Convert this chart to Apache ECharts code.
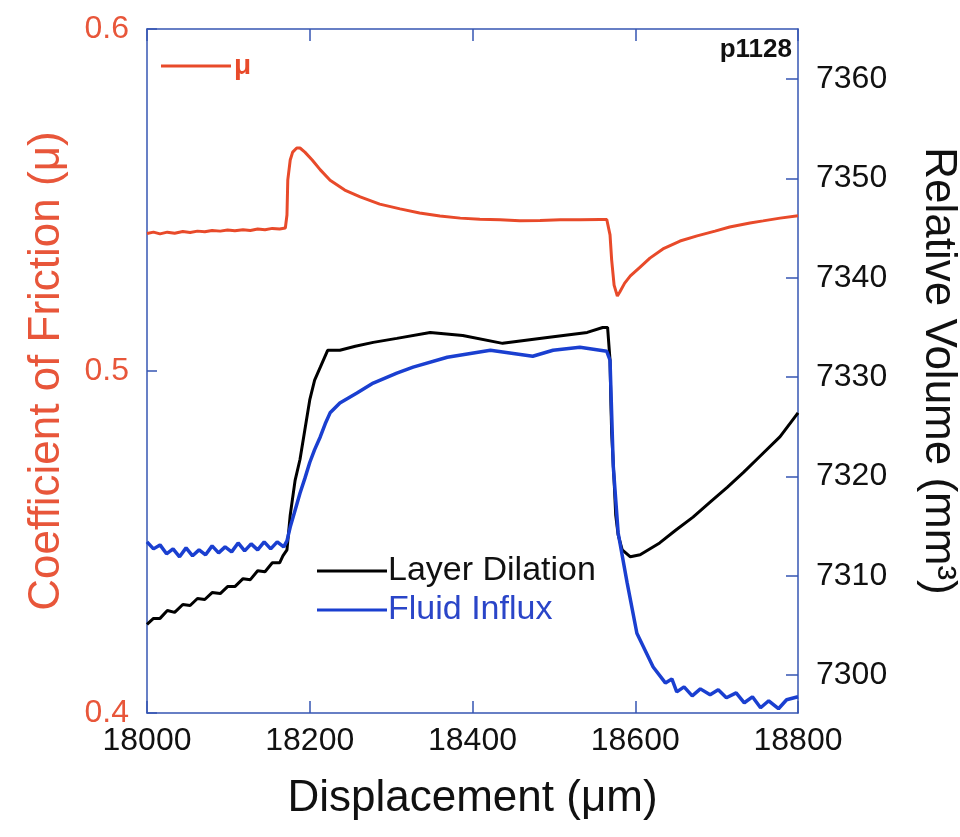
<!DOCTYPE html>
<html>
<head>
<meta charset="utf-8">
<script src="https://cdn.jsdelivr.net/npm/echarts@6/dist/echarts.min.js"></script>
<style>html,body{margin:0;padding:0;background:#fff;}#c{width:960px;height:837px;}</style>
</head>
<body>
<div id="c"></div>
<script>
// ---- data ----
var xTicks = [18000, 18200, 18400, 18600, 18800];
var muTicks = [0.4, 0.5, 0.6];
var volTicks = [7300, 7310, 7320, 7330, 7340, 7350, 7360];

var muX = [18000,18008,18016,18025,18034,18044,18053,18062,18071,18080,18090,18099,18108,18118,18127,18136,18145,18154,18163,18170,
  18172,18173,18176,18179,18184,18188,18194,18203,18213,18225,18243,18262,18286,18311,18335,18360,18385,18409,18434,18458,18483,18508,18532,18557,18565,
  18569,18571,18574,18578,18581,18587,18594,18606,18618,18634,18655,18676,18698,18716,18741,18757,18778,18800];
var muY = [0.5402,0.5406,0.5401,0.5406,0.5403,0.5408,0.5405,0.5409,0.5407,0.5411,0.5409,0.5412,0.5410,0.5413,0.5411,0.5415,0.5413,0.5417,0.5415,0.5418,
  0.5456,0.5558,0.5617,0.5640,0.5652,0.5652,0.5640,0.5617,0.5588,0.5558,0.5529,0.5509,0.5488,0.5474,0.5462,0.5453,0.5447,0.5444,0.5442,0.5439,0.5440,0.5442,0.5442,0.5443,0.5443,
  0.5398,0.5325,0.5251,0.5219,0.5231,0.5257,0.5278,0.5304,0.5330,0.5357,0.5380,0.5395,0.5409,0.5421,0.5433,0.5439,0.5447,0.5454];

var dilX = [18000,18008,18016,18025,18034,18044,18053,18062,18071,18080,18090,18099,18108,18118,18127,18136,18145,18154,18163,18167,
  18172,18176,18182,18188,18194,18200,18206,18213,18222,18237,18256,18278,18307,18348,18388,18437,18492,18541,18560,18566,
  18569,18570,18571,18574,18576,18579,18584,18594,18606,18630,18650,18671,18692,18713,18733,18753,18778,18800];
var dilY = [7305.1,7305.7,7305.7,7306.5,7306.3,7307.1,7307.0,7307.7,7307.6,7308.3,7308.2,7308.9,7308.9,7309.7,7309.6,7310.5,7310.4,7311.3,7311.3,7312.0,
  7312.6,7316.1,7319.6,7321.7,7324.7,7327.7,7329.7,7331.0,7332.7,7332.7,7333.1,7333.5,7333.9,7334.5,7334.2,7333.4,7334.0,7334.5,7335.0,7335.0,
  7331.7,7327.7,7324.4,7319.6,7316.1,7314.1,7312.6,7311.9,7312.1,7313.3,7314.6,7315.9,7317.4,7318.9,7320.4,7322.0,7324.0,7326.4];

var fluX = [18000,18008,18016,18024,18032,18040,18048,18056,18064,18072,18080,18088,18096,18104,18112,18120,18128,18136,18144,18152,18160,18168,18172,
  18176,18182,18188,18194,18200,18206,18213,18219,18225,18237,18258,18278,18307,18327,18369,18422,18474,18499,18532,18565,
  18569,18573,18579,18590,18602,18622,18637,18645,18651,18660,18670,18680,18692,18702,18712,18724,18734,18744,18754,18764,18776,18786,18800];
var fluY = [7313.4,7312.7,7313.1,7312.2,7312.7,7311.9,7312.8,7312.0,7312.6,7312.1,7313.0,7312.3,7312.9,7312.4,7313.3,7312.5,7313.2,7312.6,7313.4,7312.7,7313.4,7312.9,7313.5,
  7314.9,7316.6,7318.3,7319.8,7321.4,7322.7,7324.0,7325.3,7326.4,7327.4,7328.4,7329.4,7330.4,7331.0,7332.0,7332.7,7332.1,7332.7,7333.0,7332.6,
  7331.7,7321.0,7314.3,7309.3,7304.2,7300.8,7299.2,7299.6,7298.3,7298.8,7297.9,7298.6,7298.0,7298.5,7297.7,7298.2,7297.2,7297.8,7296.7,7297.4,7296.6,7297.5,7297.8];

function zip(xs, ys){ var out=[]; for(var i=0;i<xs.length;i++) out.push([xs[i], ys[i]]); return out; }

var FONT = "'Liberation Sans', Arial, Helvetica, sans-serif";
var AXIS_BLUE = '#3656b3';
var RED = '#e84a2a';
var RED_TXT = '#e8563a';
var BLUE = '#1a3fd0';

var chart = echarts.init(document.getElementById('c'), null, {renderer:'canvas'});
chart.setOption({
  animation: false,
  backgroundColor: '#fff',
  textStyle: {fontFamily: FONT},
  title: {
    text: 'p1128', right: 163, top: 32,
    textStyle: {fontFamily: FONT, fontSize: 26, fontWeight: 'bold', color: '#111'}
  },
  legend: [
    {
      data: [{name: 'μ', textStyle: {color: RED, fontWeight: 'bold', fontSize: 28}}],
      left: 156, top: 47, icon: 'rect', itemWidth: 70, itemHeight: 3, itemGap: 4,
      textStyle: {fontFamily: FONT, padding: [0,0,0,-2]}
    },
    {
      data: [{name: 'Layer Dilation', textStyle: {color: '#111'}}, {name: 'Fluid Influx', textStyle: {color: '#2a45c8'}}],
      orient: 'vertical', left: 312, top: 549, icon: 'rect', itemWidth: 70, itemHeight: 3, itemGap: 5,
      textStyle: {fontFamily: FONT, fontSize: 34, padding: [0,0,0,-4]}
    }
  ],
  grid: {left: 147, right: 162, top: 29, bottom: 124, containLabel: false, outerBoundsMode: 'none'},
  xAxis: [
    {
      type: 'value', position: 'bottom', min: 18000, max: 18800, interval: 200,
      axisLine: {lineStyle: {color: AXIS_BLUE, width: 1.5}},
      axisTick: {inside: true, length: 12, lineStyle: {color: AXIS_BLUE, width: 1.5}},
      axisLabel: {fontFamily: FONT, fontSize: 32, color: '#111', margin: 12, customValues: xTicks,
        formatter: function(v){ return String(v); }},
      splitLine: {show: false},
      name: 'Displacement (μm)', nameLocation: 'middle', nameGap: 64,
      nameTextStyle: {fontFamily: FONT, fontSize: 44, color: '#111'}
    },
    {
      type: 'value', position: 'top', min: 18000, max: 18800, interval: 200,
      axisLine: {lineStyle: {color: AXIS_BLUE, width: 1.5}},
      axisTick: {inside: true, length: 12, lineStyle: {color: AXIS_BLUE, width: 1.5}},
      axisLabel: {show: false}, splitLine: {show: false}
    }
  ],
  yAxis: [
    {
      type: 'value', position: 'left', min: 0.4, max: 0.6, interval: 0.1,
      axisLine: {show: true, lineStyle: {color: AXIS_BLUE, width: 1.5}},
      axisTick: {show: true, inside: true, length: 10, lineStyle: {color: AXIS_BLUE, width: 1.5}},
      axisLabel: {fontFamily: FONT, fontSize: 32, color: RED_TXT, margin: 18, customValues: muTicks,
        formatter: function(v){ return v.toFixed(1); }},
      splitLine: {show: false},
      name: 'Coefficient of Friction (μ)', nameLocation: 'middle', nameGap: 78,
      nameTextStyle: {fontFamily: FONT, fontSize: 44, color: RED_TXT}
    },
    {
      type: 'value', position: 'right', min: 7296.17, max: 7365.06,
      axisLine: {show: true, lineStyle: {color: AXIS_BLUE, width: 1.5}},
      axisTick: {show: true, inside: true, length: 12, customValues: volTicks, lineStyle: {color: AXIS_BLUE, width: 1.5}},
      axisLabel: {fontFamily: FONT, fontSize: 32, color: '#111', margin: 18, customValues: volTicks,
        formatter: function(v){ return String(v); }},
      splitLine: {show: false},
      name: 'Relative Volume (mm³)', nameLocation: 'middle', nameGap: 118, nameRotate: -90,
      nameTextStyle: {fontFamily: FONT, fontSize: 44, color: '#111'}
    }
  ],
  series: [
    {name: 'μ', type: 'line', xAxisIndex: 0, yAxisIndex: 0, data: zip(muX, muY), showSymbol: false, symbol: 'none',
      lineStyle: {color: RED, width: 3}, itemStyle: {color: RED}},
    {name: 'Layer Dilation', type: 'line', xAxisIndex: 0, yAxisIndex: 1, data: zip(dilX, dilY), showSymbol: false, symbol: 'none',
      lineStyle: {color: '#000', width: 3}, itemStyle: {color: '#000'}},
    {name: 'Fluid Influx', type: 'line', xAxisIndex: 0, yAxisIndex: 1, data: zip(fluX, fluY), showSymbol: false, symbol: 'none',
      lineStyle: {color: BLUE, width: 3.5}, itemStyle: {color: BLUE}}
  ]
});
</script>
</body>
</html>
